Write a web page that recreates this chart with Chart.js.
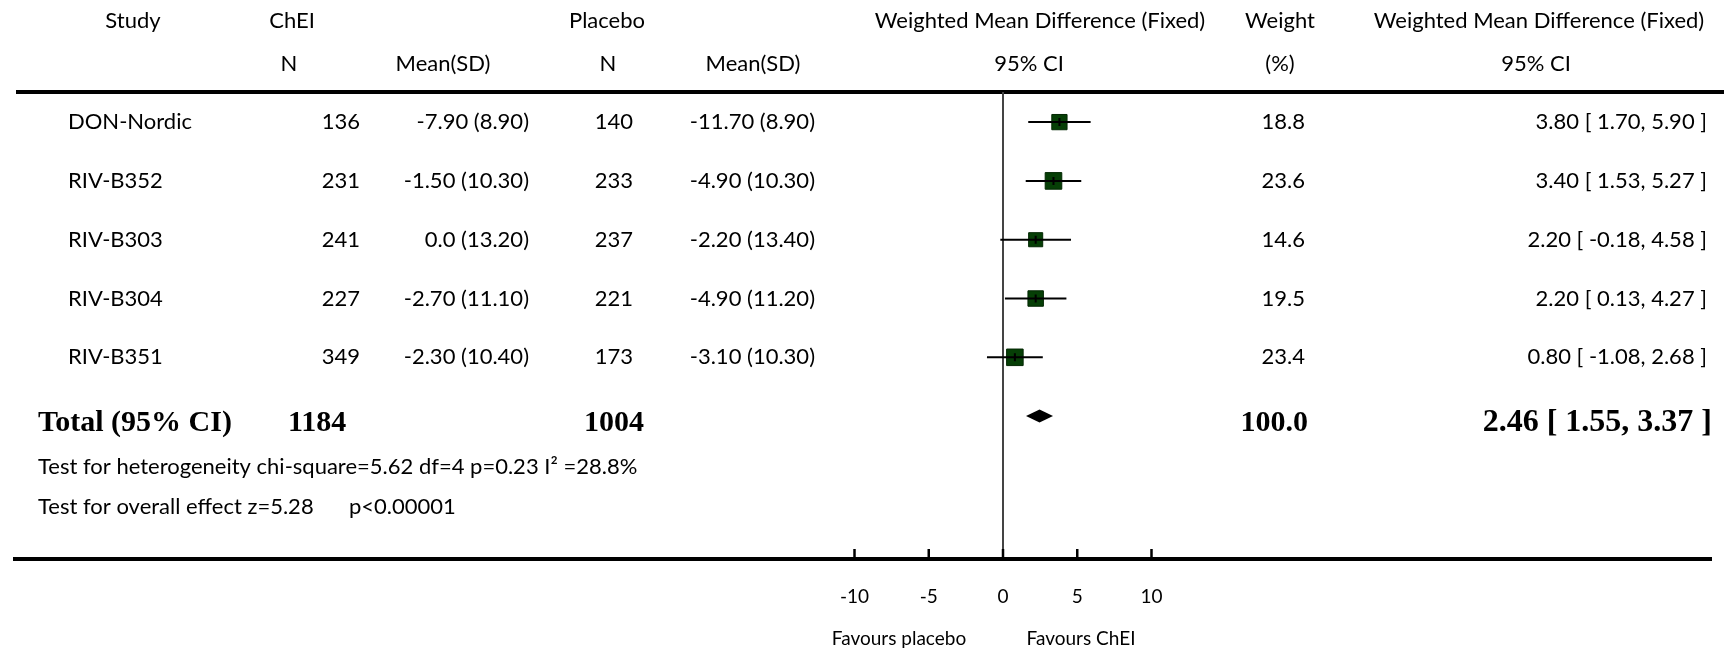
<!DOCTYPE html>
<html>
<head>
<meta charset="utf-8">
<script src="https://cdn.jsdelivr.net/npm/chart.js@4"></script>
<style>
  body { margin: 0; background: #fff; }
  #wrap { width: 1724px; height: 650px; }
</style>
</head>
<body>
<div id="wrap"><canvas id="forest" width="1724" height="650"></canvas></div>
<script>
// Data
const studies = ["DON-Nordic", "RIV-B352", "RIV-B303", "RIV-B304", "RIV-B351"];
const cheiN = [136, 231, 241, 227, 349];
const cheiMean = [-7.90, -1.50, 0.0, -2.70, -2.30];
const cheiSD = [8.90, 10.30, 13.20, 11.10, 10.40];
const placeboN = [140, 233, 237, 221, 173];
const placeboMean = [-11.70, -4.90, -2.20, -4.90, -3.10];
const placeboSD = [8.90, 10.30, 13.40, 11.20, 10.30];
const wmd = [3.80, 3.40, 2.20, 2.20, 0.80];
const ciLow = [1.70, 1.53, -0.18, 0.13, -1.08];
const ciHigh = [5.90, 5.27, 4.58, 4.27, 2.68];
const weights = [18.8, 23.6, 14.6, 19.5, 23.4];
const totalN = [1184, 1004];
const totalWmd = 2.46;
const totalLow = 1.55;
const totalHigh = 3.37;
const totalWeight = 100.0;
const tickValues = [-10, -5, 0, 5, 10];

const SANS = "Lato, 'Open Sans', sans-serif";
const SERIF = "'Liberation Serif', 'DejaVu Serif', serif";

// where the line of no effect sits and how wide one unit is
const zeroPx = 1003;
const pxPerUnit = 14.85;

const fmt = v => (v === 0 ? "0.0" : v.toFixed(2));
const ciText = (m, lo, hi) => `${m.toFixed(2)} [ ${lo.toFixed(2)}, ${hi.toFixed(2)} ]`;

function txt(ctx, s, x, y, align, font) {
    ctx.font = font;
    ctx.textAlign = align;
    ctx.textBaseline = "middle";
    ctx.fillStyle = "#000";
    ctx.fillText(s, x, y);
}

// Lines behind the marks: top rule and line of no effect
const backLines = {
    id: "backLines",
    beforeDatasetsDraw(chart) {
        const {ctx, chartArea, scales: {x}} = chart;
        ctx.save();
        ctx.strokeStyle = "#000";
        ctx.lineWidth = 4;
        ctx.beginPath();
        ctx.moveTo(16, 92);
        ctx.lineTo(chart.width, 92);
        ctx.stroke();
        const x0 = x.getPixelForValue(0);
        ctx.strokeStyle = "#444";
        ctx.lineWidth = 2;
        ctx.beginPath();
        ctx.moveTo(x0, 92);
        ctx.lineTo(x0, chartArea.bottom);
        ctx.stroke();
        ctx.restore();
    }
};

// CI whiskers, pooled diamond, axis ticks and all the table text
const forestText = {
    id: "forestText",
    afterDatasetsDraw(chart) {
        const {ctx, chartArea, scales: {x, y}} = chart;
        ctx.save();
        ctx.strokeStyle = "#000";
        ctx.lineWidth = 2;
        for (let i = 0; i < studies.length; i++) {
            const py = y.getPixelForValue(i);
            const px = x.getPixelForValue(wmd[i]);
            ctx.beginPath();
            ctx.moveTo(x.getPixelForValue(ciLow[i]), py);
            ctx.lineTo(x.getPixelForValue(ciHigh[i]), py);
            ctx.moveTo(px, py - 4);
            ctx.lineTo(px, py + 4);
            ctx.stroke();
        }
        // diamond
        const dy = y.getPixelForValue(studies.length);
        ctx.fillStyle = "#000";
        ctx.beginPath();
        ctx.moveTo(x.getPixelForValue(totalLow), dy);
        ctx.lineTo(x.getPixelForValue(totalWmd), dy - 6.5);
        ctx.lineTo(x.getPixelForValue(totalHigh), dy);
        ctx.lineTo(x.getPixelForValue(totalWmd), dy + 6.5);
        ctx.closePath();
        ctx.fill();
        // tick marks pointing up from the axis line
        ctx.lineWidth = 2.5;
        for (const t of x.ticks) {
            const tx = x.getPixelForValue(t.value);
            ctx.beginPath();
            ctx.moveTo(tx, chartArea.bottom);
            ctx.lineTo(tx, chartArea.bottom - 10);
            ctx.stroke();
        }
        ctx.restore();
    },
    afterDraw(chart) {
        const {ctx, scales: {y}} = chart;
        const f = `22px ${SANS}`;
        const fb = `bold 30px ${SERIF}`;
        ctx.save();
        // headers
        txt(ctx, "Study", 133, 21, "center", f);
        txt(ctx, "ChEI", 292, 21, "center", f);
        txt(ctx, "Placebo", 607, 21, "center", f);
        txt(ctx, "Weighted Mean Difference (Fixed)", 1040, 21, "center", f);
        txt(ctx, "Weight", 1280, 21, "center", f);
        txt(ctx, "Weighted Mean Difference (Fixed)", 1539, 21, "center", f);
        txt(ctx, "N", 289, 64, "center", f);
        txt(ctx, "Mean(SD)", 443, 64, "center", f);
        txt(ctx, "N", 608, 64, "center", f);
        txt(ctx, "Mean(SD)", 753, 64, "center", f);
        txt(ctx, "95% CI", 1029, 64, "center", f);
        txt(ctx, "(%)", 1280, 64, "center", f);
        txt(ctx, "95% CI", 1536, 64, "center", f);
        // study rows
        for (let i = 0; i < studies.length; i++) {
            const py = y.getPixelForValue(i);
            txt(ctx, studies[i], 68, py, "left", f);
            txt(ctx, String(cheiN[i]), 360, py, "right", f);
            txt(ctx, `${fmt(cheiMean[i])} (${cheiSD[i].toFixed(2)})`, 529, py, "right", f);
            txt(ctx, String(placeboN[i]), 633, py, "right", f);
            txt(ctx, `${fmt(placeboMean[i])} (${placeboSD[i].toFixed(2)})`, 815, py, "right", f);
            txt(ctx, weights[i].toFixed(1), 1305, py, "right", f);
            txt(ctx, ciText(wmd[i], ciLow[i], ciHigh[i]), 1707, py, "right", f);
        }
        // total row
        const ty = y.getPixelForValue(studies.length) + 7;
        txt(ctx, "Total (95% CI)", 38, ty, "left", fb);
        txt(ctx, String(totalN[0]), 288, ty, "left", fb);
        txt(ctx, String(totalN[1]), 584, ty, "left", fb);
        txt(ctx, totalWeight.toFixed(1), 1308, ty, "right", fb);
        txt(ctx, ciText(totalWmd, totalLow, totalHigh), 1712, ty, "right", `bold 32px ${SERIF}`);
        // tests
        const ft = `22px ${SANS}`;
        txt(ctx, "Test for heterogeneity chi-square=5.62 df=4 p=0.23 I\u00B2 =28.8%", 38, 467, "left", ft);
        txt(ctx, "Test for overall effect z=5.28", 38, 507, "left", ft);
        txt(ctx, "p<0.00001", 349, 507, "left", ft);
        // favours labels
        txt(ctx, "Favours placebo", 899, 639, "center", `19px ${SANS}`);
        txt(ctx, "Favours ChEI", 1081, 639, "center", `19px ${SANS}`);
        ctx.restore();
    }
};

// Forest plot
const forestCanvas = document.getElementById("forest");
const forestData = {
    datasets: [{
        label: "WMD",
        data: wmd.map((v, i) => ({x: v, y: i})),
        pointStyle: "rect",
        pointRadius: weights.map(w => (10 + 0.28 * w) / Math.SQRT2),
        backgroundColor: "#063f06",
        borderColor: "#032803",
        borderWidth: 1,
        showLine: false
    }]
};
const forestOptions = {
    responsive: false,
    animation: false,
    layout: { padding: { left: 15, right: 5, top: 0, bottom: 0 } },
    plugins: {
        legend: { display: false },
        tooltip: { enabled: false }
    },
    scales: {
        x: {
            type: "linear",
            min: -65.87,
            max: 47.73,
            afterBuildTicks: s => { s.ticks = tickValues.map(v => ({ value: v })); },
            afterFit: s => { s.height = 91; },
            ticks: {
                font: { family: SANS, size: 19 },
                color: "#000",
                padding: 26,
                autoSkip: false,
                maxRotation: 0
            },
            grid: { display: false, drawTicks: false },
            border: { display: true, color: "#000", width: 4 }
        },
        y: {
            type: "linear",
            display: false,
            reverse: true,
            min: -1.86,
            max: 7.43
        }
    }
};
let forestChart = new Chart(forestCanvas, {
    type: "scatter",
    data: forestData,
    options: forestOptions,
    plugins: [backLines, forestText]
});

// put zero where it sits in the original, from the real chart area
const area = forestChart.chartArea;
forestChart.options.scales.x.min = -(zeroPx - area.left) / pxPerUnit;
forestChart.options.scales.x.max = (area.right - zeroPx) / pxPerUnit;
forestChart.update();
</script>
</body>
</html>
